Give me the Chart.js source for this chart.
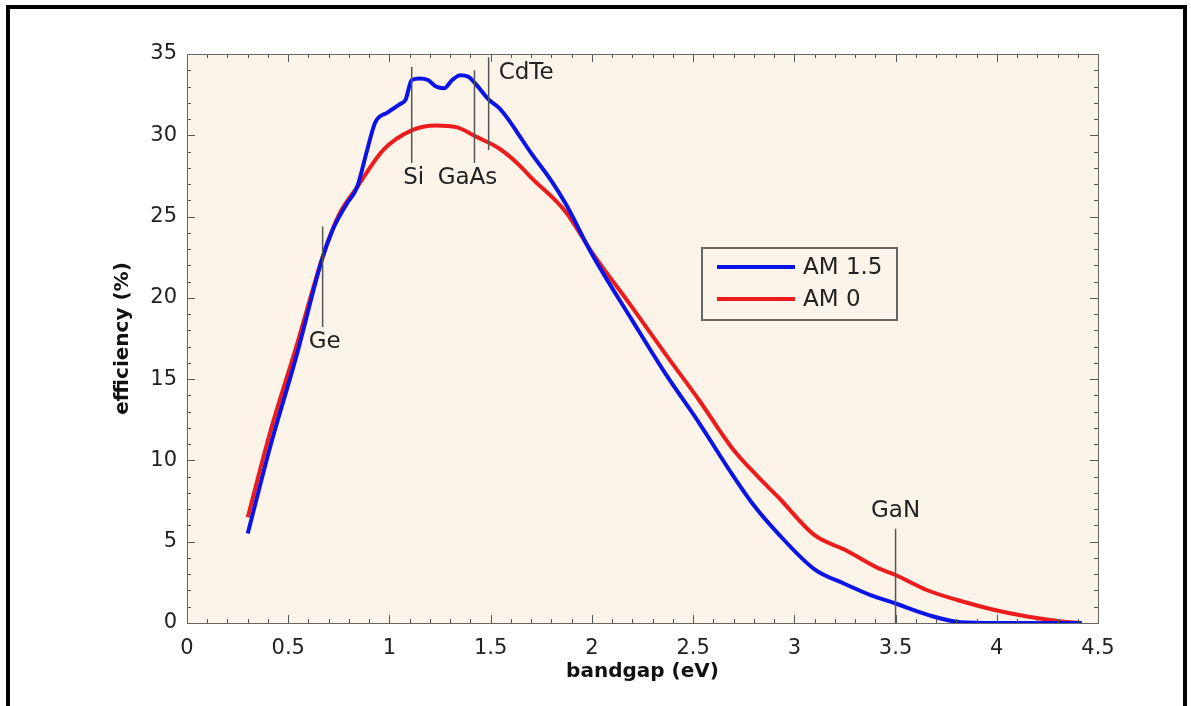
<!DOCTYPE html>
<html>
<head>
<meta charset="utf-8">
<script src="https://cdn.jsdelivr.net/npm/chart.js@4.4.0/dist/chart.umd.min.js"></script>
<style>
  html, body { margin: 0; padding: 0; background: #fff; }
  #wrap { width: 1191px; height: 706px; }
</style>
</head>
<body>
<div id="wrap"><canvas id="effChart" width="1191" height="706"></canvas></div>
<script>
// AM 1.5 spectrum efficiency (blue)
const am15Gap = [0.30, 0.41, 0.54, 0.67, 0.72, 0.79, 0.84, 0.89, 0.93, 0.99, 1.05, 1.08, 1.11, 1.15, 1.19, 1.23, 1.27, 1.31, 1.35, 1.39, 1.43, 1.49, 1.54, 1.58, 1.63, 1.70, 1.80, 1.87, 2.00, 2.20, 2.36, 2.53, 2.69, 2.79, 2.92, 3.10, 3.25, 3.38, 3.50, 3.66, 3.82, 4.00, 4.42];
const am15Eff = [5.5, 10.8, 16.4, 22.5, 24.2, 25.8, 26.8, 29.1, 30.8, 31.4, 31.9, 32.2, 33.4, 33.5, 33.4, 33.0, 32.9, 33.4, 33.7, 33.6, 33.1, 32.2, 31.7, 31.1, 30.2, 28.9, 27.2, 25.8, 22.7, 18.6, 15.4, 12.3, 9.2, 7.4, 5.5, 3.3, 2.4, 1.7, 1.2, 0.5, 0.05, 0, 0];

// AM 0 spectrum efficiency (red)
const am0Gap = [0.30, 0.41, 0.54, 0.67, 0.75, 0.84, 0.97, 1.11, 1.23, 1.33, 1.43, 1.54, 1.63, 1.70, 1.87, 2.00, 2.20, 2.36, 2.53, 2.69, 2.82, 2.92, 3.10, 3.25, 3.41, 3.50, 3.66, 3.81, 3.99, 4.15, 4.32, 4.41];
const am0Eff = [6.5, 11.7, 17.0, 22.5, 25.1, 26.8, 29.1, 30.3, 30.6, 30.5, 29.9, 29.2, 28.3, 27.4, 25.3, 22.8, 19.4, 16.6, 13.7, 10.8, 9.0, 7.75, 5.4, 4.5, 3.4, 2.95, 2.0, 1.4, 0.8, 0.4, 0.1, 0];

// material markers
const matNames = ['Ge', 'Si', 'GaAs', 'CdTe', 'GaN'];
const matGap = [0.67, 1.11, 1.42, 1.49, 3.5];
const matTop = [24.4, 34.2, 34.0, 34.8, 5.8];
const matBottom = [18.2, 28.3, 28.3, 29.1, 0];

const FONT = '"DejaVu Sans", Verdana, sans-serif';
const toPts = (xs, ys) => xs.map((x, i) => ({ x: x, y: ys[i] }));

// fondo, marco, ticks interiores, marcadores y leyenda
const decor = {
  id: 'decor',
  beforeDatasetsDraw(chart) {
    const { ctx, chartArea: a } = chart;
    ctx.save();
    ctx.fillStyle = '#fdf4e9';
    ctx.fillRect(a.left, a.top, a.right - a.left, a.bottom - a.top);
    ctx.restore();
  },
  afterDatasetsDraw(chart) {
    const { ctx, chartArea: a, scales } = chart;
    const xs = scales.x, ys = scales.y;
    ctx.save();

    // ticks on all sides
    ctx.strokeStyle = '#555';
    ctx.lineWidth = 1;
    ctx.beginPath();
    for (let i = 0; i <= 45; i++) {
      const px = Math.round(xs.getPixelForValue(i / 10)) + 0.5;
      const len = i % 5 === 0 ? 8 : 4;
      ctx.moveTo(px, a.bottom); ctx.lineTo(px, a.bottom - len);
      ctx.moveTo(px, a.top); ctx.lineTo(px, a.top + len);
    }
    for (let i = 0; i <= 35; i++) {
      const py = Math.round(ys.getPixelForValue(i)) + 0.5;
      const len = i % 5 === 0 ? 8 : 4;
      ctx.moveTo(a.left, py); ctx.lineTo(a.left + len, py);
      ctx.moveTo(a.right, py); ctx.lineTo(a.right - len, py);
    }
    ctx.stroke();
    ctx.strokeStyle = '#666';
    ctx.strokeRect(a.left + 0.5, a.top + 0.5, a.right - a.left, a.bottom - a.top);

    // material markers
    ctx.font = '23px ' + FONT;
    ctx.fillStyle = '#222';
    matNames.forEach((name, i) => {
      const px = xs.getPixelForValue(matGap[i]);
      const y1 = ys.getPixelForValue(matTop[i]);
      const y2 = ys.getPixelForValue(matBottom[i]);
      ctx.strokeStyle = '#555';
      ctx.lineWidth = 1.5;
      ctx.beginPath();
      ctx.moveTo(px, y1); ctx.lineTo(px, y2);
      ctx.stroke();
      ctx.textBaseline = 'middle';
      if (name === 'CdTe') {
        ctx.textAlign = 'left';
        ctx.fillText(name, px + 10, y1 + 16);
      } else if (name === 'GaN') {
        ctx.textAlign = 'center';
        ctx.fillText(name, px, y1 - 18);
      } else {
        ctx.textAlign = 'center';
        ctx.fillText(name, name === 'GaAs' ? px - 7 : px + 2, y2 + 15);
      }
    });

    // legend
    const lx = a.left + 515, ly = a.top + 194;
    ctx.fillStyle = '#fdf4e9';
    ctx.fillRect(lx, ly, 195, 72);
    ctx.strokeStyle = '#666';
    ctx.lineWidth = 2;
    ctx.strokeRect(lx, ly, 195, 72);
    chart.data.datasets.forEach((ds, i) => {
      const yy = ly + 19 + i * 32;
      ctx.strokeStyle = ds.borderColor;
      ctx.lineWidth = 4;
      ctx.beginPath();
      ctx.moveTo(lx + 15, yy); ctx.lineTo(lx + 93, yy);
      ctx.stroke();
      ctx.fillStyle = '#222';
      ctx.textAlign = 'left'; ctx.textBaseline = 'middle';
      ctx.fillText(ds.label, lx + 101, yy + 1);
    });

    // outer frame
    ctx.strokeStyle = '#000';
    ctx.lineWidth = 4;
    ctx.strokeRect(8, 7, 1177, 720);
    ctx.restore();
  }
};

new Chart(document.getElementById('effChart'), {
  type: 'line',
  data: {
    datasets: [
      {
        label: 'AM 1.5',
        data: toPts(am15Gap, am15Eff),
        borderColor: '#0a14e6',
        borderWidth: 4,
        pointRadius: 0,
        cubicInterpolationMode: 'monotone',
        fill: false
      },
      {
        label: 'AM 0',
        data: toPts(am0Gap, am0Eff),
        borderColor: '#ec1c1c',
        borderWidth: 4,
        pointRadius: 0,
        cubicInterpolationMode: 'monotone',
        fill: false
      }
    ]
  },
  options: {
    responsive: false,
    animation: false,
    layout: { padding: { top: 54, right: 93, bottom: 0, left: 0 } },
    plugins: { legend: { display: false }, tooltip: { enabled: false } },
    scales: {
      x: {
        type: 'linear',
        min: 0, max: 4.5,
        grid: { display: false },
        border: { display: false },
        ticks: {
          stepSize: 0.5,
          padding: 5,
          color: '#222',
          font: { family: FONT, size: 21 },
          callback: v => String(v)
        },
        title: {
          display: true,
          text: 'bandgap (eV)',
          color: '#111',
          font: { family: FONT, size: 20, weight: 'bold' },
          padding: { bottom: 22 }
        },
        afterFit: s => { s.height = 83; }
      },
      y: {
        min: 0, max: 35,
        grid: { display: false },
        border: { display: false },
        ticks: {
          stepSize: 5,
          padding: 2,
          color: '#222',
          font: { family: FONT, size: 21 }
        },
        title: {
          display: true,
          text: 'efficiency (%)',
          color: '#111',
          font: { family: FONT, size: 20, weight: 'bold' },
          padding: { top: 111 }
        },
        afterFit: s => { s.width = 187; }
      }
    }
  },
  plugins: [decor]
});
</script>
</body>
</html>
